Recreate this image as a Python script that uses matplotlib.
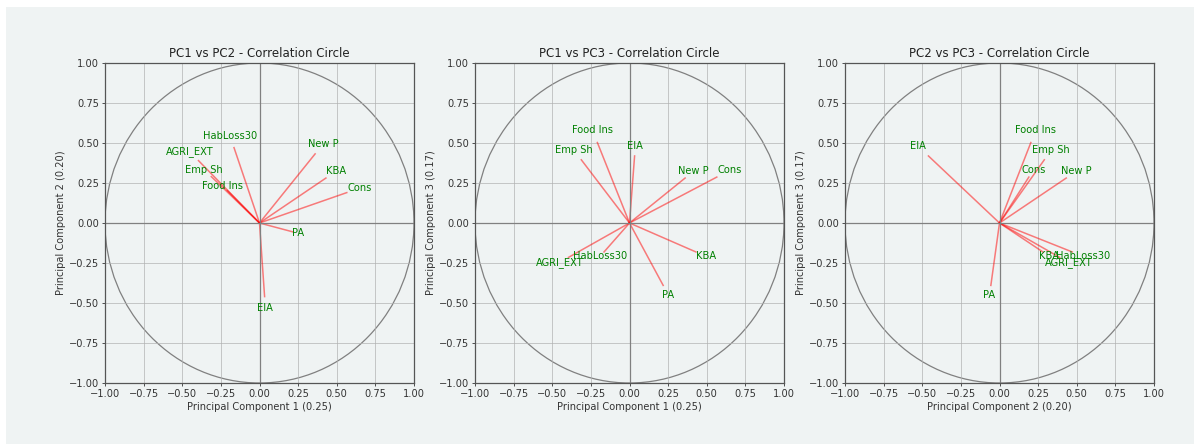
import matplotlib.pyplot as plt
from matplotlib.patches import Rectangle

# loadings
variables = ['HabLoss30', 'AGRI_EXT', 'Emp Sh', 'Food Ins', 'New P', 'KBA', 'Cons', 'PA', 'EIA']
pc1 = [-0.165, -0.395, -0.312, -0.208, 0.360, 0.430, 0.565, 0.218, 0.033]
pc2 = [0.471, 0.390, 0.290, 0.203, 0.432, 0.281, 0.190, -0.056, -0.460]
pc3 = [-0.181, -0.215, 0.395, 0.503, 0.281, -0.181, 0.287, -0.390, 0.419]
explained = {'1': 0.25, '2': 0.20, '3': 0.17}

pairs = [('1', '2', pc1, pc2), ('1', '3', pc1, pc3), ('2', '3', pc2, pc3)]
ticks = [-1.0, -0.75, -0.5, -0.25, 0.0, 0.25, 0.5, 0.75, 1.0]

bg = '#eff3f3'
fig = plt.figure(figsize=(11.94, 4.44), dpi=100, facecolor='white')
fig.patches.append(Rectangle((6 / 1194, 0), 1, 437 / 444, transform=fig.transFigure,
                             facecolor=bg, edgecolor='none', zorder=-10))

lefts = [105, 475, 845]
for left, (a, b, xs, ys) in zip(lefts, pairs):
    ax = fig.add_axes([left / 1194, 61 / 444, 309 / 1194, 320 / 444])
    ax.set_facecolor(bg)
    for name, x, y in zip(variables, xs, ys):
        ax.plot([0, x], [0, y], color='r', alpha=0.5, lw=1.1)
        ax.text(x * 1.15, y * 1.15, name, color='g', ha='center', va='center', fontsize=7.1)
    ax.add_patch(plt.Circle((0, 0), 1, color='gray', fill=False, lw=0.9))
    ax.axhline(0, color='gray', lw=0.9)
    ax.axvline(0, color='gray', lw=0.9)
    ax.set_xlim(-1, 1)
    ax.set_ylim(-1, 1)
    ax.set_xticks(ticks)
    ax.set_yticks(ticks)
    ax.grid(True, color='#b0b0b0', lw=0.6, alpha=0.8)
    ax.tick_params(labelsize=7.1, width=0.6, length=2.5, pad=2, colors='#333333')
    for s in ax.spines.values():
        s.set_color('#555555')
        s.set_linewidth(0.9)
    ax.set_title(f'PC{a} vs PC{b} - Correlation Circle', fontsize=8.5, pad=4, color='#222222')
    ax.set_xlabel(f'Principal Component {a} ({explained[a]:.2f})', fontsize=7.1, labelpad=2, color='#333333')
    ax.set_ylabel(f'Principal Component {b} ({explained[b]:.2f})', fontsize=7.1, labelpad=2, color='#333333')

fig.savefig('out.png', dpi=100, facecolor=fig.get_facecolor())
